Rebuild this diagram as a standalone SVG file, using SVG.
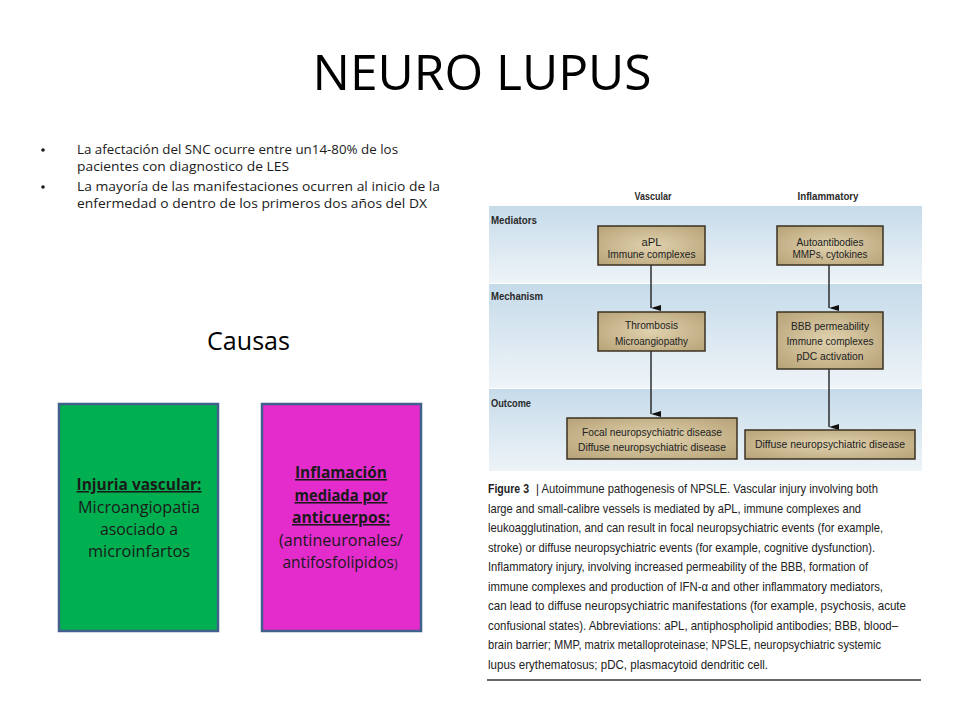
<svg xmlns="http://www.w3.org/2000/svg" width="960" height="720" viewBox="0 0 960 720">
<defs>
<linearGradient id="band" x1="0" y1="0" x2="0" y2="1">
<stop offset="0" stop-color="#c6dbea"/>
<stop offset="1" stop-color="#eef4f8"/>
</linearGradient>
<radialGradient id="tan" cx="0.5" cy="0.5" r="0.7">
<stop offset="0" stop-color="#e0d2ae"/>
<stop offset="1" stop-color="#b7a277"/>
</radialGradient>
<marker id="arr" viewBox="0 0 6 10" refX="3" refY="10" markerWidth="6" markerHeight="10" markerUnits="userSpaceOnUse" orient="auto-start-reverse">
<path d="M0,0 L6,0 L3,10 Z" fill="#111"/>
</marker>
</defs>
<style>
.sans{font-family:"Open Sans","Liberation Sans",sans-serif;}
.fig{font-family:"Liberation Sans","DejaVu Sans",sans-serif;fill:#222;}
.fbox{fill:url(#tan);stroke:#3b3222;stroke-width:1.5;}
.lbl{font-family:"Liberation Sans",sans-serif;font-weight:bold;fill:#2a2a2a;font-size:11px;}
.bt{font-size:11.5px;text-anchor:middle;}
.cap{font-size:13px;}
.cause{stroke:#41618c;stroke-width:2.5;}
.ct{font-family:"Open Sans","Liberation Sans",sans-serif;font-size:15.5px;text-anchor:middle;fill:#1a1a1a;}
.conn{stroke:#111;stroke-width:1.3;fill:none;}
</style>
<rect width="960" height="720" fill="#ffffff"/>

<g id="title">
<text class="sans" x="482" y="90" font-size="50" text-anchor="middle" textLength="339" lengthAdjust="spacingAndGlyphs" fill="#000">NEURO LUPUS</text>
</g>

<g id="bullets" class="sans" font-size="12" fill="#1a1a1a">
<circle cx="43" cy="150" r="1.8" fill="#1a1a1a"/>
<circle cx="43" cy="187" r="1.8" fill="#1a1a1a"/>
<text x="77" y="154" textLength="321" lengthAdjust="spacingAndGlyphs">La afectación del SNC ocurre entre un14-80% de los</text>
<text x="77" y="171" textLength="212" lengthAdjust="spacingAndGlyphs">pacientes con diagnostico de LES</text>
<text x="77" y="191" textLength="363" lengthAdjust="spacingAndGlyphs">La mayoría de las manifestaciones ocurren al inicio de la</text>
<text x="77" y="208" textLength="350" lengthAdjust="spacingAndGlyphs">enfermedad o dentro de los primeros dos años del DX</text>
</g>

<g id="causas">
<text class="sans" x="207" y="350" font-size="26" textLength="83" lengthAdjust="spacingAndGlyphs" fill="#000">Causas</text>
</g>

<g id="injuria">
<rect class="cause" x="59" y="404" width="159" height="227" fill="#00b050"/>
<text class="ct" x="139" y="490" font-weight="bold" text-decoration="underline" textLength="125" lengthAdjust="spacingAndGlyphs">Injuria vascular:</text>
<text class="ct" x="139" y="513" textLength="122" lengthAdjust="spacingAndGlyphs">Microangiopatia</text>
<text class="ct" x="139" y="535" textLength="78" lengthAdjust="spacingAndGlyphs">asociado a</text>
<text class="ct" x="139" y="557" textLength="102" lengthAdjust="spacingAndGlyphs">microinfartos</text>
</g>

<g id="inflamacion">
<rect class="cause" x="262" y="404" width="159" height="227" fill="#e42bcc"/>
<text class="ct" x="341" y="478" font-weight="bold" text-decoration="underline" textLength="92" lengthAdjust="spacingAndGlyphs">Inflamación</text>
<text class="ct" x="341" y="501" font-weight="bold" text-decoration="underline" textLength="93" lengthAdjust="spacingAndGlyphs">mediada por</text>
<text class="ct" x="341" y="523" font-weight="bold" text-decoration="underline" textLength="98" lengthAdjust="spacingAndGlyphs">anticuerpos:</text>
<text class="ct" x="341" y="546" textLength="124" lengthAdjust="spacingAndGlyphs">(antineuronales/</text>
<text class="ct" x="340" y="568">antifosfolipidos<tspan font-size="12">)</tspan></text>
</g>

<g id="figure">
<rect x="489" y="206" width="433" height="77" fill="url(#band)"/>
<rect x="489" y="284" width="433" height="104" fill="url(#band)"/>
<rect x="489" y="389" width="433" height="82" fill="url(#band)"/>
<text class="lbl" x="653" y="200" text-anchor="middle" textLength="37" lengthAdjust="spacingAndGlyphs">Vascular</text>
<text class="lbl" x="828" y="200" text-anchor="middle" textLength="61" lengthAdjust="spacingAndGlyphs">Inflammatory</text>
<text class="lbl" x="491" y="224" textLength="46" lengthAdjust="spacingAndGlyphs">Mediators</text>
<text class="lbl" x="491" y="300" textLength="52" lengthAdjust="spacingAndGlyphs">Mechanism</text>
<text class="lbl" x="491" y="407" textLength="40" lengthAdjust="spacingAndGlyphs">Outcome</text>
</g>

<g id="connectors">
<line class="conn" x1="651" y1="265" x2="651" y2="308" marker-end="url(#arr)"/>
<line class="conn" x1="651" y1="351" x2="651" y2="414" marker-end="url(#arr)"/>
<line class="conn" x1="829" y1="265" x2="829" y2="308" marker-end="url(#arr)"/>
<line class="conn" x1="829" y1="369" x2="829" y2="427" marker-end="url(#arr)"/>
</g>

<g id="aPL">
<rect class="fbox" x="598" y="226" width="107" height="39"/>
<text class="fig bt" x="651.5" y="246" textLength="20" lengthAdjust="spacingAndGlyphs">aPL</text>
<text class="fig bt" x="651.5" y="258" textLength="88" lengthAdjust="spacingAndGlyphs">Immune complexes</text>
</g>
<g id="autoantibodies">
<rect class="fbox" x="777" y="226" width="106" height="39"/>
<text class="fig bt" x="830" y="246" textLength="67" lengthAdjust="spacingAndGlyphs">Autoantibodies</text>
<text class="fig bt" x="830" y="258" textLength="75" lengthAdjust="spacingAndGlyphs">MMPs, cytokines</text>
</g>
<g id="thrombosis">
<rect class="fbox" x="598" y="312" width="107" height="39"/>
<text class="fig bt" x="651.5" y="329" textLength="53" lengthAdjust="spacingAndGlyphs">Thrombosis</text>
<text class="fig bt" x="651.5" y="345" textLength="73" lengthAdjust="spacingAndGlyphs">Microangiopathy</text>
</g>
<g id="bbb">
<rect class="fbox" x="777" y="312" width="106" height="57"/>
<text class="fig bt" x="830" y="330" textLength="78" lengthAdjust="spacingAndGlyphs">BBB permeability</text>
<text class="fig bt" x="830" y="345" textLength="87" lengthAdjust="spacingAndGlyphs">Immune complexes</text>
<text class="fig bt" x="830" y="360" textLength="67" lengthAdjust="spacingAndGlyphs">pDC activation</text>
</g>
<g id="focal">
<rect class="fbox" x="567" y="418" width="170" height="41"/>
<text class="fig bt" x="652" y="436" textLength="140" lengthAdjust="spacingAndGlyphs">Focal neuropsychiatric disease</text>
<text class="fig bt" x="652" y="451" textLength="148" lengthAdjust="spacingAndGlyphs">Diffuse neuropsychiatric disease</text>
</g>
<g id="diffuse">
<rect class="fbox" x="745" y="430" width="170" height="29"/>
<text class="fig bt" x="830" y="448" textLength="150" lengthAdjust="spacingAndGlyphs">Diffuse neuropsychiatric disease</text>
</g>

<g id="caption" class="fig cap">
<text x="488" y="493" font-weight="bold" textLength="41" lengthAdjust="spacingAndGlyphs">Figure 3</text>
<text x="536" y="493" textLength="342" lengthAdjust="spacingAndGlyphs">| Autoimmune pathogenesis of NPSLE. Vascular injury involving both</text>
<text x="488" y="512.5" textLength="373" lengthAdjust="spacingAndGlyphs">large and small-calibre vessels is mediated by aPL, immune complexes and</text>
<text x="488" y="532" textLength="395" lengthAdjust="spacingAndGlyphs">leukoagglutination, and can result in focal neuropsychiatric events (for example,</text>
<text x="488" y="551.5" textLength="387" lengthAdjust="spacingAndGlyphs">stroke) or diffuse neuropsychiatric events (for example, cognitive dysfunction).</text>
<text x="488" y="571" textLength="380" lengthAdjust="spacingAndGlyphs">Inflammatory injury, involving increased permeability of the BBB, formation of</text>
<text x="488" y="590.5" textLength="395" lengthAdjust="spacingAndGlyphs">immune complexes and production of IFN-α and other inflammatory mediators,</text>
<text x="488" y="610" textLength="418" lengthAdjust="spacingAndGlyphs">can lead to diffuse neuropsychiatric manifestations (for example, psychosis, acute</text>
<text x="488" y="629.5" textLength="410" lengthAdjust="spacingAndGlyphs">confusional states). Abbreviations: aPL, antiphospholipid antibodies; BBB, blood–</text>
<text x="488" y="649" textLength="393" lengthAdjust="spacingAndGlyphs">brain barrier; MMP, matrix metalloproteinase; NPSLE, neuropsychiatric systemic</text>
<text x="488" y="668.5" textLength="280" lengthAdjust="spacingAndGlyphs">lupus erythematosus; pDC, plasmacytoid dendritic cell.</text>
<line x1="487" y1="680" x2="921" y2="680" stroke="#333" stroke-width="1.5"/>
</g>
</svg>
